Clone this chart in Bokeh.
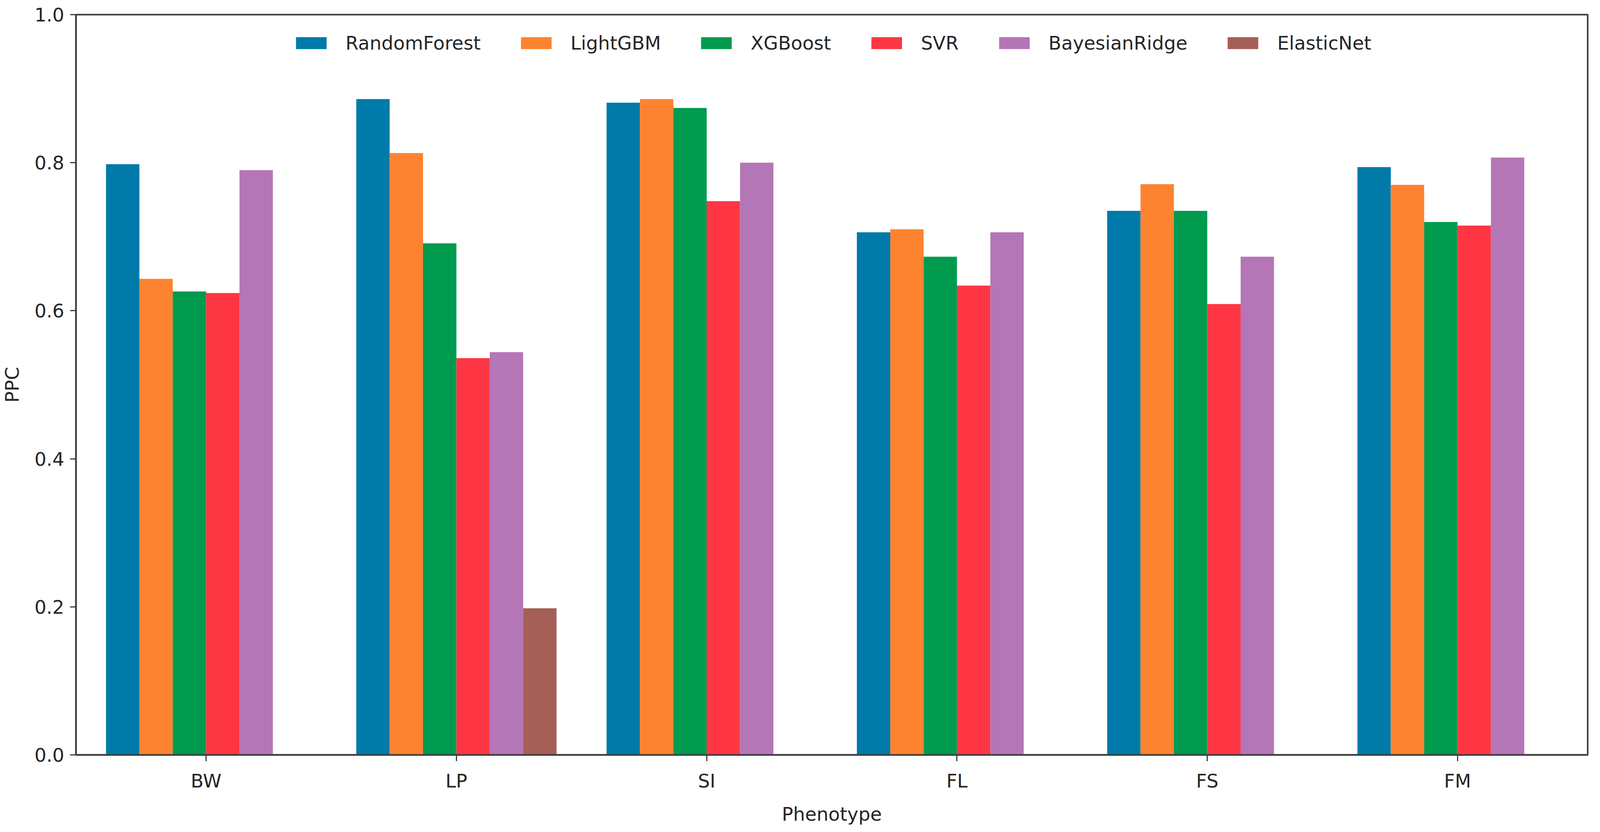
from bokeh.plotting import figure
from bokeh.models import ColumnDataSource, FactorRange, FixedTicker, PrintfTickFormatter, Legend, LegendItem, Range1d
from bokeh.transform import dodge
from bokeh.embed import file_html
from bokeh.resources import INLINE

phenotypes = ["BW", "LP", "SI", "FL", "FS", "FM"]
models = ["RandomForest", "LightGBM", "XGBoost", "SVR", "BayesianRidge", "ElasticNet"]

random_forest = [0.798, 0.886, 0.881, 0.706, 0.735, 0.794]
lightgbm = [0.643, 0.813, 0.886, 0.710, 0.771, 0.770]
xgboost = [0.626, 0.691, 0.874, 0.673, 0.735, 0.720]
svr = [0.624, 0.536, 0.748, 0.634, 0.609, 0.715]
bayesian_ridge = [0.790, 0.544, 0.800, 0.706, 0.673, 0.807]
elastic_net = [None, 0.198, None, None, None, None]

y_ticks = [0.0, 0.2, 0.4, 0.6, 0.8, 1.0]

colors = ["#007aa8", "#fe8330", "#009b4f", "#fe3644", "#b476b6", "#a65f56"]

series = [random_forest, lightgbm, xgboost, svr, bayesian_ridge, elastic_net]

FONT = "DejaVu Sans"
FS = "48px"
AX = "#3c3c3c"

p = figure(
    width=4080, height=2115,
    x_range=FactorRange(*phenotypes, range_padding=0.02, range_padding_units="absolute"),
    y_range=Range1d(0, 1.0),
    output_backend="svg", toolbar_location=None,
    min_border_left=183, min_border_right=16, min_border_top=37, min_border_bottom=172,
)
p.background_fill_color = "white"
p.border_fill_color = "white"
p.xgrid.visible = False
p.ygrid.visible = False
p.outline_line_color = AX
p.outline_line_width = 4

n = len(models)
bw = 0.8 / n
items = []
for i, (name, vals, col) in enumerate(zip(models, series, colors)):
    src = ColumnDataSource(dict(
        phenotype=phenotypes,
        value=[float("nan") if v is None else v for v in vals],
    ))
    r = p.vbar(x=dodge("phenotype", (i - (n - 1) / 2) * bw, range=p.x_range),
               top="value", bottom=0, width=bw, source=src,
               fill_color=col, line_color=None)
    items.append(LegendItem(label=name, renderers=[r]))

legend = Legend(items=items, orientation="horizontal", location="top_center",
                label_text_font=FONT, label_text_font_size=FS, label_text_color="#262626",
                glyph_width=98, glyph_height=38, label_standoff=39, spacing=93,
                margin=45, padding=10, border_line_color=None, background_fill_alpha=0)
p.add_layout(legend)

p.yaxis.ticker = FixedTicker(ticks=y_ticks)
p.yaxis.formatter = PrintfTickFormatter(format="%.1f")
p.yaxis.minor_tick_line_color = None
p.xaxis.axis_label = "Phenotype"
p.yaxis.axis_label = "PPC"

for ax in (p.xaxis[0], p.yaxis[0]):
    ax.axis_line_color = AX
    ax.axis_line_width = 4
    ax.major_tick_line_color = AX
    ax.major_tick_line_width = 3
    ax.major_tick_in = 0
    ax.minor_tick_line_color = None
    ax.major_label_text_font = FONT
    ax.major_label_text_font_size = FS
    ax.major_label_text_color = "#262626"
    ax.axis_label_text_font = FONT
    ax.axis_label_text_font_size = FS
    ax.axis_label_text_font_style = "normal"
    ax.axis_label_text_color = "#262626"

p.yaxis.major_tick_out = 15
p.xaxis.major_tick_out = 16
p.yaxis.major_label_standoff = 15
p.yaxis.axis_label_standoff = 26
p.xaxis.major_label_standoff = 22
p.xaxis.axis_label_standoff = 26

open("out.html", "w").write(file_html(p, INLINE))
